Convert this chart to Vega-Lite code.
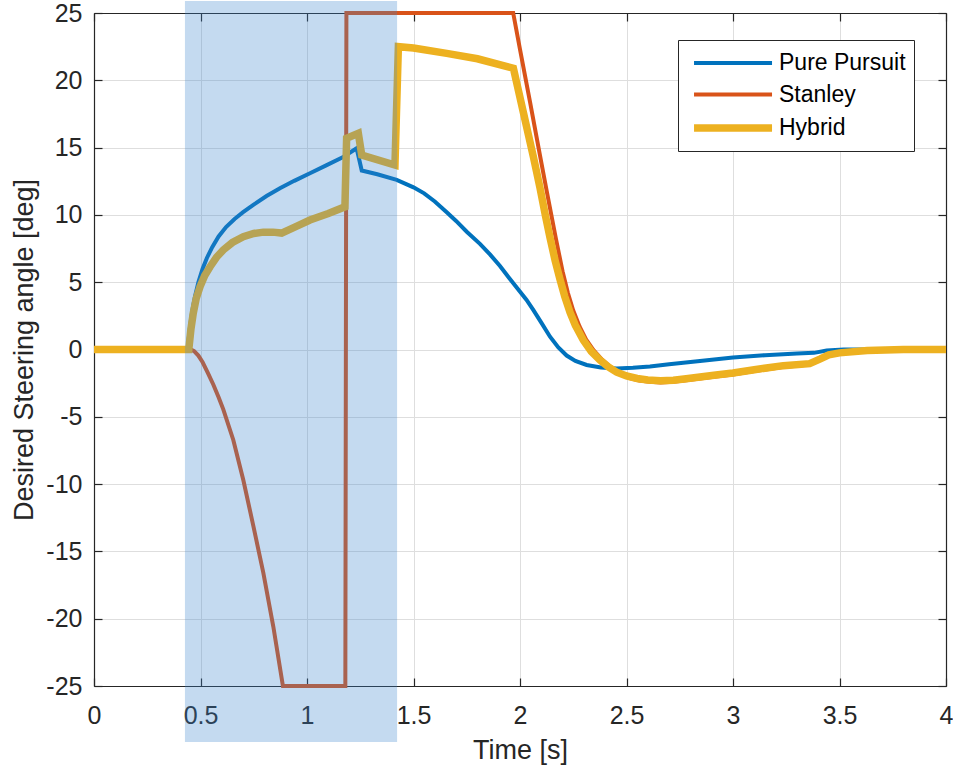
{
  "$schema": "https://vega.github.io/schema/vega-lite/v6.json",
  "width": 852,
  "height": 673,
  "autosize": {"type": "none"},
  "padding": {"left": 94, "top": 13, "right": 7, "bottom": 83},
  "background": "white",
  "config": {
    "font": "Liberation Sans",
    "view": {"stroke": null},
    "axis": {
      "domainColor": "#262626",
      "domainWidth": 1.2,
      "tickColor": "#262626",
      "tickWidth": 1.2,
      "gridColor": "#dedede",
      "gridWidth": 1,
      "labelColor": "#262626",
      "labelFontSize": 25,
      "titleColor": "#262626",
      "titleFontSize": 27,
      "titleFontWeight": "normal",
      "labelFlush": false,
      "labelOverlap": false
    }
  },
  "datasets": {
    "steering": [
      {"controller": "Pure Pursuit", "t": 0, "angle": 0},
      {"controller": "Pure Pursuit", "t": 0.44, "angle": 0},
      {"controller": "Pure Pursuit", "t": 0.447, "angle": 1.2},
      {"controller": "Pure Pursuit", "t": 0.455, "angle": 2.2},
      {"controller": "Pure Pursuit", "t": 0.465, "angle": 3.2},
      {"controller": "Pure Pursuit", "t": 0.475, "angle": 4.0},
      {"controller": "Pure Pursuit", "t": 0.49, "angle": 5.0},
      {"controller": "Pure Pursuit", "t": 0.51, "angle": 6.0},
      {"controller": "Pure Pursuit", "t": 0.53, "angle": 6.8},
      {"controller": "Pure Pursuit", "t": 0.555, "angle": 7.6},
      {"controller": "Pure Pursuit", "t": 0.585, "angle": 8.4},
      {"controller": "Pure Pursuit", "t": 0.62, "angle": 9.1},
      {"controller": "Pure Pursuit", "t": 0.66, "angle": 9.7},
      {"controller": "Pure Pursuit", "t": 0.7, "angle": 10.2},
      {"controller": "Pure Pursuit", "t": 0.748, "angle": 10.75},
      {"controller": "Pure Pursuit", "t": 0.81, "angle": 11.4},
      {"controller": "Pure Pursuit", "t": 0.873, "angle": 11.98},
      {"controller": "Pure Pursuit", "t": 0.94, "angle": 12.53},
      {"controller": "Pure Pursuit", "t": 1.014, "angle": 13.1},
      {"controller": "Pure Pursuit", "t": 1.09, "angle": 13.68},
      {"controller": "Pure Pursuit", "t": 1.17, "angle": 14.3},
      {"controller": "Pure Pursuit", "t": 1.233, "angle": 14.95},
      {"controller": "Pure Pursuit", "t": 1.257, "angle": 13.3},
      {"controller": "Pure Pursuit", "t": 1.33, "angle": 13.02},
      {"controller": "Pure Pursuit", "t": 1.421, "angle": 12.6},
      {"controller": "Pure Pursuit", "t": 1.5, "angle": 12.05},
      {"controller": "Pure Pursuit", "t": 1.55, "angle": 11.6},
      {"controller": "Pure Pursuit", "t": 1.6, "angle": 11.0},
      {"controller": "Pure Pursuit", "t": 1.656, "angle": 10.2},
      {"controller": "Pure Pursuit", "t": 1.7, "angle": 9.55},
      {"controller": "Pure Pursuit", "t": 1.75, "angle": 8.75},
      {"controller": "Pure Pursuit", "t": 1.812, "angle": 7.85},
      {"controller": "Pure Pursuit", "t": 1.86, "angle": 7.05},
      {"controller": "Pure Pursuit", "t": 1.906, "angle": 6.2},
      {"controller": "Pure Pursuit", "t": 1.95, "angle": 5.3},
      {"controller": "Pure Pursuit", "t": 1.99, "angle": 4.5},
      {"controller": "Pure Pursuit", "t": 2.03, "angle": 3.7},
      {"controller": "Pure Pursuit", "t": 2.063, "angle": 2.93},
      {"controller": "Pure Pursuit", "t": 2.1, "angle": 2.0},
      {"controller": "Pure Pursuit", "t": 2.141, "angle": 0.95},
      {"controller": "Pure Pursuit", "t": 2.18, "angle": 0.15},
      {"controller": "Pure Pursuit", "t": 2.219, "angle": -0.45},
      {"controller": "Pure Pursuit", "t": 2.26, "angle": -0.85},
      {"controller": "Pure Pursuit", "t": 2.313, "angle": -1.15},
      {"controller": "Pure Pursuit", "t": 2.38, "angle": -1.33},
      {"controller": "Pure Pursuit", "t": 2.454, "angle": -1.41},
      {"controller": "Pure Pursuit", "t": 2.53, "angle": -1.36},
      {"controller": "Pure Pursuit", "t": 2.61, "angle": -1.26},
      {"controller": "Pure Pursuit", "t": 2.7, "angle": -1.1},
      {"controller": "Pure Pursuit", "t": 2.845, "angle": -0.85},
      {"controller": "Pure Pursuit", "t": 3.0, "angle": -0.6},
      {"controller": "Pure Pursuit", "t": 3.15, "angle": -0.42},
      {"controller": "Pure Pursuit", "t": 3.3, "angle": -0.3},
      {"controller": "Pure Pursuit", "t": 3.38, "angle": -0.25},
      {"controller": "Pure Pursuit", "t": 3.44, "angle": -0.08},
      {"controller": "Pure Pursuit", "t": 3.52, "angle": 0},
      {"controller": "Pure Pursuit", "t": 4.0, "angle": 0},

      {"controller": "Stanley", "t": 0, "angle": 0},
      {"controller": "Stanley", "t": 0.455, "angle": 0},
      {"controller": "Stanley", "t": 0.47, "angle": -0.12},
      {"controller": "Stanley", "t": 0.49, "angle": -0.45},
      {"controller": "Stanley", "t": 0.51, "angle": -0.95},
      {"controller": "Stanley", "t": 0.535, "angle": -1.75},
      {"controller": "Stanley", "t": 0.56, "angle": -2.6},
      {"controller": "Stanley", "t": 0.585, "angle": -3.55},
      {"controller": "Stanley", "t": 0.607, "angle": -4.45},
      {"controller": "Stanley", "t": 0.654, "angle": -6.72},
      {"controller": "Stanley", "t": 0.701, "angle": -9.7},
      {"controller": "Stanley", "t": 0.748, "angle": -13.1},
      {"controller": "Stanley", "t": 0.795, "angle": -16.6},
      {"controller": "Stanley", "t": 0.842, "angle": -20.6},
      {"controller": "Stanley", "t": 0.887, "angle": -25},
      {"controller": "Stanley", "t": 1.18, "angle": -25},
      {"controller": "Stanley", "t": 1.185, "angle": 25},
      {"controller": "Stanley", "t": 1.968, "angle": 25},
      {"controller": "Stanley", "t": 2.0, "angle": 22.3},
      {"controller": "Stanley", "t": 2.047, "angle": 18.4},
      {"controller": "Stanley", "t": 2.094, "angle": 14.4},
      {"controller": "Stanley", "t": 2.125, "angle": 11.8},
      {"controller": "Stanley", "t": 2.147, "angle": 10.0},
      {"controller": "Stanley", "t": 2.169, "angle": 8.2},
      {"controller": "Stanley", "t": 2.2, "angle": 5.8},
      {"controller": "Stanley", "t": 2.225, "angle": 4.2},
      {"controller": "Stanley", "t": 2.25, "angle": 2.9},
      {"controller": "Stanley", "t": 2.28, "angle": 1.7},
      {"controller": "Stanley", "t": 2.31, "angle": 0.75},
      {"controller": "Stanley", "t": 2.345, "angle": -0.05},
      {"controller": "Stanley", "t": 2.385, "angle": -0.75},
      {"controller": "Stanley", "t": 2.425, "angle": -1.3},
      {"controller": "Stanley", "t": 2.465, "angle": -1.75},
      {"controller": "Stanley", "t": 2.51, "angle": -2.1},
      {"controller": "Stanley", "t": 2.56, "angle": -2.3},
      {"controller": "Stanley", "t": 2.61, "angle": -2.4},
      {"controller": "Stanley", "t": 2.66, "angle": -2.45},
      {"controller": "Stanley", "t": 2.72, "angle": -2.4},
      {"controller": "Stanley", "t": 2.78, "angle": -2.28},
      {"controller": "Stanley", "t": 2.845, "angle": -2.15},
      {"controller": "Stanley", "t": 2.92, "angle": -2.0},
      {"controller": "Stanley", "t": 3.0, "angle": -1.85},
      {"controller": "Stanley", "t": 3.1, "angle": -1.6},
      {"controller": "Stanley", "t": 3.236, "angle": -1.3},
      {"controller": "Stanley", "t": 3.36, "angle": -1.12},
      {"controller": "Stanley", "t": 3.41, "angle": -0.75},
      {"controller": "Stanley", "t": 3.45, "angle": -0.45},
      {"controller": "Stanley", "t": 3.5, "angle": -0.3},
      {"controller": "Stanley", "t": 3.63, "angle": -0.1},
      {"controller": "Stanley", "t": 3.8, "angle": 0},
      {"controller": "Stanley", "t": 4.0, "angle": 0},

      {"controller": "Hybrid", "t": 0, "angle": 0},
      {"controller": "Hybrid", "t": 0.445, "angle": 0},
      {"controller": "Hybrid", "t": 0.455, "angle": 1.5},
      {"controller": "Hybrid", "t": 0.466, "angle": 2.7},
      {"controller": "Hybrid", "t": 0.48, "angle": 3.8},
      {"controller": "Hybrid", "t": 0.498, "angle": 4.67},
      {"controller": "Hybrid", "t": 0.52, "angle": 5.5},
      {"controller": "Hybrid", "t": 0.545, "angle": 6.15},
      {"controller": "Hybrid", "t": 0.575, "angle": 6.85},
      {"controller": "Hybrid", "t": 0.607, "angle": 7.4},
      {"controller": "Hybrid", "t": 0.65, "angle": 7.95},
      {"controller": "Hybrid", "t": 0.701, "angle": 8.38},
      {"controller": "Hybrid", "t": 0.75, "angle": 8.62},
      {"controller": "Hybrid", "t": 0.795, "angle": 8.72},
      {"controller": "Hybrid", "t": 0.84, "angle": 8.72},
      {"controller": "Hybrid", "t": 0.881, "angle": 8.65},
      {"controller": "Hybrid", "t": 0.95, "angle": 9.15},
      {"controller": "Hybrid", "t": 1.014, "angle": 9.62},
      {"controller": "Hybrid", "t": 1.1, "angle": 10.1},
      {"controller": "Hybrid", "t": 1.178, "angle": 10.6},
      {"controller": "Hybrid", "t": 1.186, "angle": 15.7},
      {"controller": "Hybrid", "t": 1.241, "angle": 16.06},
      {"controller": "Hybrid", "t": 1.257, "angle": 14.45},
      {"controller": "Hybrid", "t": 1.413, "angle": 13.7},
      {"controller": "Hybrid", "t": 1.429, "angle": 22.5},
      {"controller": "Hybrid", "t": 1.5, "angle": 22.4},
      {"controller": "Hybrid", "t": 1.656, "angle": 22.0},
      {"controller": "Hybrid", "t": 1.8, "angle": 21.6},
      {"controller": "Hybrid", "t": 1.969, "angle": 20.9},
      {"controller": "Hybrid", "t": 2.016, "angle": 17.6},
      {"controller": "Hybrid", "t": 2.063, "angle": 14.3},
      {"controller": "Hybrid", "t": 2.094, "angle": 12.0},
      {"controller": "Hybrid", "t": 2.12, "angle": 9.9},
      {"controller": "Hybrid", "t": 2.141, "angle": 8.3},
      {"controller": "Hybrid", "t": 2.165, "angle": 6.6},
      {"controller": "Hybrid", "t": 2.188, "angle": 5.2},
      {"controller": "Hybrid", "t": 2.21, "angle": 3.95},
      {"controller": "Hybrid", "t": 2.235, "angle": 2.75},
      {"controller": "Hybrid", "t": 2.26, "angle": 1.8},
      {"controller": "Hybrid", "t": 2.297, "angle": 0.7},
      {"controller": "Hybrid", "t": 2.335, "angle": -0.15},
      {"controller": "Hybrid", "t": 2.376, "angle": -0.8},
      {"controller": "Hybrid", "t": 2.415, "angle": -1.3},
      {"controller": "Hybrid", "t": 2.454, "angle": -1.68},
      {"controller": "Hybrid", "t": 2.5, "angle": -1.97},
      {"controller": "Hybrid", "t": 2.55, "angle": -2.15},
      {"controller": "Hybrid", "t": 2.6, "angle": -2.26},
      {"controller": "Hybrid", "t": 2.66, "angle": -2.32},
      {"controller": "Hybrid", "t": 2.72, "angle": -2.28},
      {"controller": "Hybrid", "t": 2.78, "angle": -2.17},
      {"controller": "Hybrid", "t": 2.845, "angle": -2.05},
      {"controller": "Hybrid", "t": 2.92, "angle": -1.9},
      {"controller": "Hybrid", "t": 3.0, "angle": -1.75},
      {"controller": "Hybrid", "t": 3.1, "angle": -1.5},
      {"controller": "Hybrid", "t": 3.236, "angle": -1.2},
      {"controller": "Hybrid", "t": 3.36, "angle": -1.05},
      {"controller": "Hybrid", "t": 3.41, "angle": -0.7},
      {"controller": "Hybrid", "t": 3.45, "angle": -0.4},
      {"controller": "Hybrid", "t": 3.5, "angle": -0.25},
      {"controller": "Hybrid", "t": 3.63, "angle": -0.08},
      {"controller": "Hybrid", "t": 3.8, "angle": 0},
      {"controller": "Hybrid", "t": 4.0, "angle": 0}
    ],
    "highlight": [
      {"t_start": 0.427, "t_end": 1.423, "lo": -29.16, "hi": 25.9}
    ]
  },
  "layer": [
    {
      "data": {"name": "steering"},
      "mark": {"type": "line", "strokeCap": "butt", "strokeJoin": "miter"},
      "encoding": {
        "x": {
          "field": "t", "type": "quantitative",
          "scale": {"domain": [0, 4], "nice": false, "zero": false},
          "axis": {
            "orient": "bottom",
            "values": [0, 0.5, 1, 1.5, 2, 2.5, 3, 3.5, 4],
            "labelExpr": "'' + datum.value",
            "grid": true,
            "tickSize": -8,
            "labelPadding": 25,
            "title": "Time [s]",
            "titlePadding": 9
          }
        },
        "y": {
          "field": "angle", "type": "quantitative",
          "scale": {"domain": [-25, 25], "nice": false, "zero": false},
          "axis": {
            "orient": "left",
            "values": [-25, -20, -15, -10, -5, 0, 5, 10, 15, 20, 25],
            "labelExpr": "'' + datum.value",
            "grid": true,
            "tickSize": -8,
            "labelPadding": 20,
            "title": "Desired Steering angle [deg]",
            "titlePadding": 7
          }
        },
        "color": {
          "field": "controller", "type": "nominal",
          "scale": {"domain": ["Pure Pursuit", "Stanley", "Hybrid"], "range": ["#0072BD", "#D95319", "#EDB120"]},
          "legend": {
            "title": null,
            "orient": "none",
            "legendX": 584,
            "legendY": 27,
            "symbolType": "M-0.69,0H5.31",
            "symbolSize": 676,
            "labelFontSize": 23,
            "labelColor": "#000000",
            "labelOffset": 59,
            "padding": 8,
            "rowPadding": 4.5,
            "strokeColor": "#262626",
            "fillColor": "white"
          }
        },
        "strokeWidth": {
          "field": "controller", "type": "nominal",
          "scale": {"type": "ordinal", "domain": ["Pure Pursuit", "Stanley", "Hybrid"], "range": [4, 4, 7.5]},
          "legend": {
            "title": null,
            "orient": "none",
            "legendX": 584,
            "legendY": 27,
            "symbolType": "M-0.69,0H5.31",
            "symbolSize": 676,
            "labelFontSize": 23,
            "labelColor": "#000000",
            "labelOffset": 59,
            "padding": 8,
            "rowPadding": 4.5,
            "strokeColor": "#262626",
            "fillColor": "white"
          }
        }
      }
    },
    {
      "data": {"name": "highlight"},
      "mark": {"type": "rect", "fill": "#3a84cd", "opacity": 0.3},
      "encoding": {
        "x": {
          "field": "t_start", "type": "quantitative",
          "scale": {"domain": [0, 4], "nice": false, "zero": false},
          "axis": {
            "orient": "top",
            "values": [0, 0.5, 1, 1.5, 2, 2.5, 3, 3.5, 4],
            "labels": false,
            "grid": false,
            "tickSize": -8,
            "title": null
          }
        },
        "x2": {"field": "t_end"},
        "y": {
          "field": "lo", "type": "quantitative",
          "scale": {"domain": [-25, 25], "nice": false, "zero": false},
          "axis": {
            "orient": "right",
            "values": [-25, -20, -15, -10, -5, 0, 5, 10, 15, 20, 25],
            "labels": false,
            "grid": false,
            "tickSize": -8,
            "title": null
          }
        },
        "y2": {"field": "hi"}
      }
    }
  ],
  "resolve": {"axis": {"x": "independent", "y": "independent"}}
}
